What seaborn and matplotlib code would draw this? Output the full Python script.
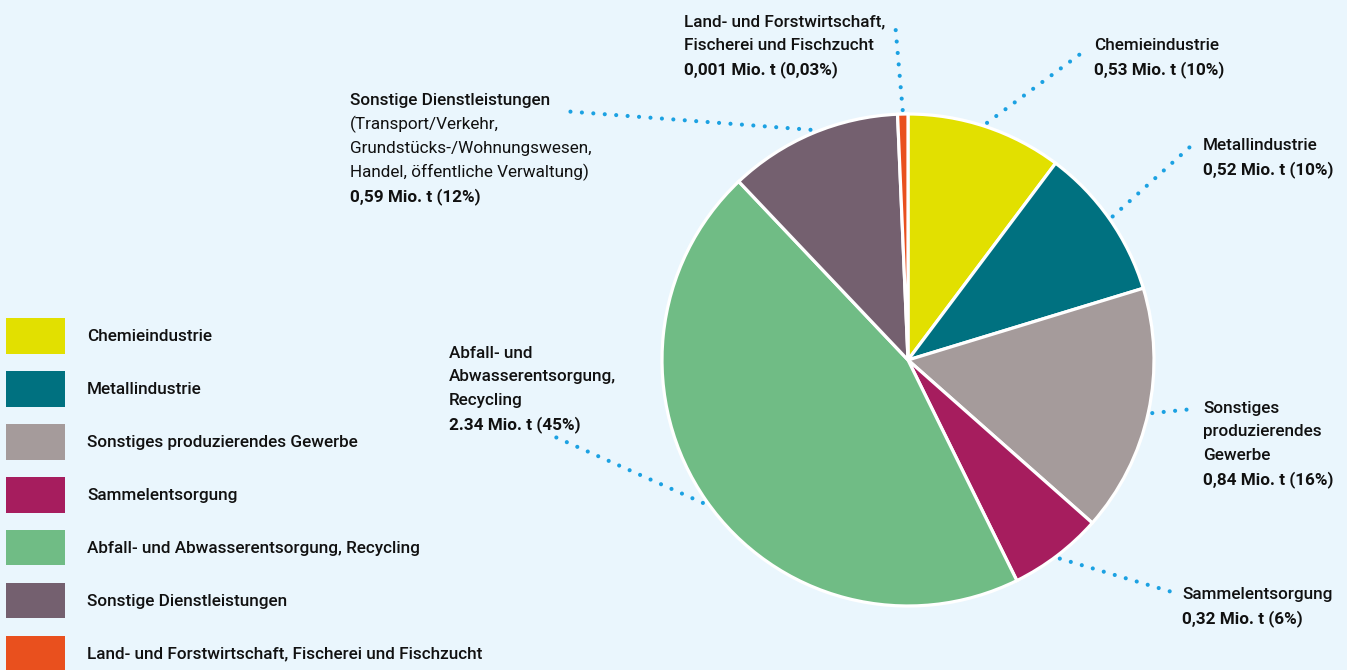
import numpy as np
import matplotlib
matplotlib.use("Agg")
import matplotlib.pyplot as plt
from matplotlib.patches import Patch
import seaborn as sns

# slice order: clockwise from 12 o'clock
categories = [
    "Chemieindustrie",
    "Metallindustrie",
    "Sonstiges produzierendes Gewerbe",
    "Sammelentsorgung",
    "Abfall- und Abwasserentsorgung, Recycling",
    "Sonstige Dienstleistungen",
    "Land- und Forstwirtschaft, Fischerei und Fischzucht",
]
values_mio_t = [0.53, 0.52, 0.84, 0.32, 2.34, 0.59, 0.035]  # tiny slice drawn wider than 0,001 in the source
colors = ["#e2e000", "#007180", "#a59b9b", "#a61d5e", "#70bc85", "#74606f", "#e9501e"]

# callout texts, one list of (line, weight) per slice
label_lines = [
    [("Chemieindustrie", "medium"), ("0,53 Mio. t (10%)", "bold")],
    [("Metallindustrie", "medium"), ("0,52 Mio. t (10%)", "bold")],
    [("Sonstiges", "medium"), ("produzierendes", "medium"), ("Gewerbe", "medium"),
     ("0,84 Mio. t (16%)", "bold")],
    [("Sammelentsorgung", "medium"), ("0,32 Mio. t (6%)", "bold")],
    [("Abfall- und", "medium"), ("Abwasserentsorgung,", "medium"), ("Recycling", "medium"),
     ("2.34 Mio. t (45%)", "bold")],
    [("Sonstige Dienstleistungen", "medium"), ("(Transport/Verkehr,", "normal"),
     ("Grundstücks-/Wohnungswesen,", "normal"), ("Handel, öffentliche Verwaltung)", "normal"),
     ("0,59 Mio. t (12%)", "bold")],
    [("Land- und Forstwirtschaft,", "medium"), ("Fischerei und Fischzucht", "medium"),
     ("0,001 Mio. t (0,03%)", "bold")],
]

W, H = 1347, 670
BG = "#eaf6fd"
DOT = "#1ba1e2"

# layout (pixels, y measured from top)
cx, cy, R = 908, 360, 246
text_pos = [(1094, 46), (1203, 146), (1203, 408), (1182, 595), (449, 353), (350, 101), (684, 22)]
leader_out = [(1083, 52), (1191, 146), (1193, 409), (1172, 592), (553, 436), (562, 111), (895, 22)]
line_h = 23.8
fs = 12.3
fs_px = fs * 100 / 72

sns.set_style("white", rc={"axes.facecolor": BG, "figure.facecolor": BG})
plt.rcParams["font.family"] = ["Roboto", "DejaVu Sans"]

fig = plt.figure(figsize=(W / 100, H / 100), dpi=100)
ax = fig.add_axes([0, 0, 1, 1])

wedges, _ = ax.pie(
    values_mio_t,
    colors=colors,
    startangle=90,
    counterclock=False,
    center=(cx, H - cy),
    radius=R,
    wedgeprops=dict(edgecolor="white", linewidth=2.3),
)
ax.set_xlim(0, W)
ax.set_ylim(0, H)
ax.set_aspect("equal")
ax.axis("off")

for w, (tx, ty), (ox, oy), lines in zip(wedges, text_pos, leader_out, label_lines):
    mid = np.deg2rad((w.theta1 + w.theta2) / 2)
    ix = cx + (R + 4) * np.cos(mid)
    iy = (H - cy) + (R + 4) * np.sin(mid)
    ax.plot([ix, ox], [iy, H - oy], color=DOT, lw=3.0,
            linestyle=(0, (0.001, 2.75)), dash_capstyle="round", solid_capstyle="round")
    for k, (txt, wt) in enumerate(lines):
        ax.text(tx, H - (ty + k * line_h), txt, fontsize=fs, fontweight=wt,
                color="#111111", ha="left", va="center")

handles = [Patch(facecolor=c, edgecolor="none") for c in colors]
leg = ax.legend(
    handles, categories,
    loc="upper left",
    bbox_to_anchor=(6 / W, 1 - 318 / H),
    frameon=False,
    prop={"weight": "medium", "size": fs},
    handlelength=59 / fs_px,
    handleheight=36.5 / (0.75 * fs_px),
    labelspacing=(53.6 - 36.5) / fs_px,
    handletextpad=22 / fs_px,
    borderpad=0,
    borderaxespad=0,
)
for t in leg.get_texts():
    t.set_color("#111111")

fig.savefig("out.png", dpi=100, facecolor=BG)
